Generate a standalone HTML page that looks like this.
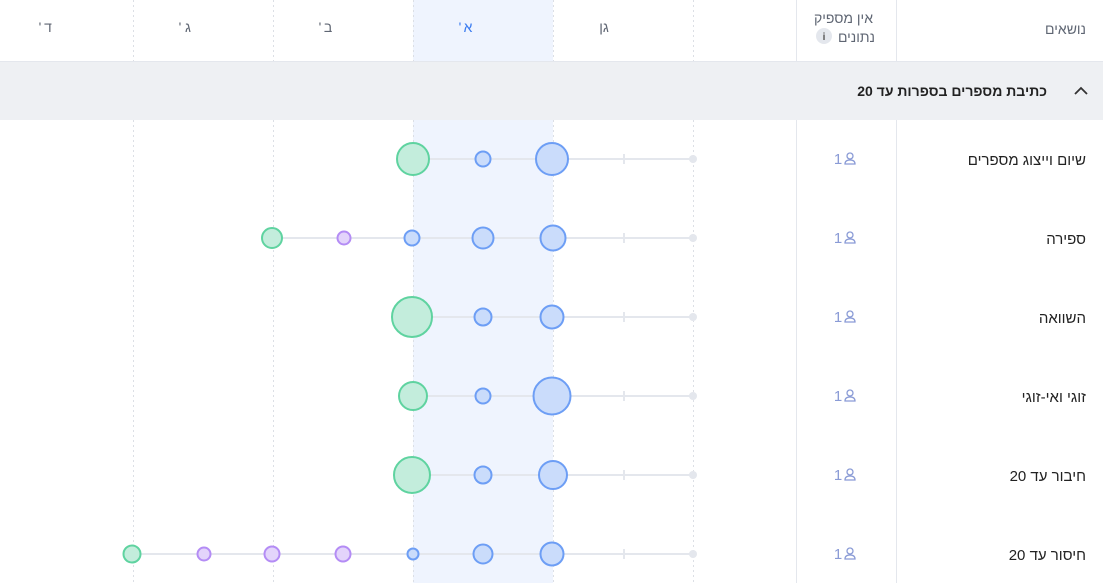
<!DOCTYPE html>
<html><head><meta charset="utf-8"><style>
html,body{margin:0;padding:0;background:#fff;width:1103px;height:583px;overflow:hidden}
svg text{font-family:"Liberation Sans","Noto Sans CJK JP",sans-serif}
</style></head><body>
<svg width="1103" height="583" xmlns="http://www.w3.org/2000/svg">
<defs>
<g id="u"><text x="838" y="5" font-size="15" fill="#8a9bd6" text-anchor="middle">1</text>
<circle cx="850" cy="-3" r="3" fill="none" stroke="#8a9bd6" stroke-width="1.3"/>
<path d="M845 5 Q845 1 850 1 Q855 1 855 5 Z" fill="none" stroke="#8a9bd6" stroke-width="1.3"/>
<line x1="624" y1="-5" x2="624" y2="5" stroke="#e4e7ed" stroke-width="2"/>
<circle cx="693" cy="0" r="4" fill="#e4e7ed"/></g>
</defs>
<rect x="413" y="0" width="140" height="583" fill="#eff4fe"/>
<g stroke="#dcdfe5" stroke-dasharray="2,3" stroke-width="1">
<line x1="133.5" y1="0" x2="133.5" y2="583"/><line x1="273.5" y1="0" x2="273.5" y2="583"/>
<line x1="413.5" y1="0" x2="413.5" y2="583"/><line x1="553.5" y1="0" x2="553.5" y2="583"/>
<line x1="693.5" y1="0" x2="693.5" y2="583"/></g>
<g stroke="#e4e7ed" stroke-width="1"><line x1="796.5" y1="0" x2="796.5" y2="583"/><line x1="896.5" y1="0" x2="896.5" y2="583"/>
<line x1="0" y1="61.5" x2="1103" y2="61.5"/></g>
<rect x="0" y="62" width="1103" height="58" fill="#eef0f3"/>
<g font-size="14" fill="#5f6673" text-anchor="middle">
<text x="40" y="32">'</text><text x="48" y="32">ד</text>
<text x="180" y="32">'</text><text x="188" y="32">ג</text>
<text x="320" y="32">'</text><text x="328" y="32">ב</text>
<text x="460" y="32" fill="#3b7cf0">'</text><text x="468" y="32" fill="#3b7cf0">א</text>
<text x="604" y="32">גן</text></g>
<text x="1086" y="34" font-size="14" fill="#5f6673" text-anchor="end">נושאים</text>
<text x="873" y="23" font-size="14" fill="#5f6673" text-anchor="end">אין מספיק</text>
<text x="875" y="42" font-size="14" fill="#5f6673" text-anchor="end">נתונים</text>
<circle cx="824" cy="36" r="8" fill="#e4e7ed"/><text x="824" y="40" font-size="10" fill="#555" text-anchor="middle" font-weight="bold">i</text>
<text x="1047" y="96" font-size="14" font-weight="bold" fill="#222" text-anchor="end">כתיבת מספרים בספרות עד 20</text>
<path d="M1075 94 L1081 88 L1087 94" stroke="#333" stroke-width="1.8" fill="none"/>
<g font-size="15" fill="#222" text-anchor="end">
<text x="1086" y="165">שיום וייצוג מספרים</text><text x="1086" y="244">ספירה</text>
<text x="1086" y="323">השוואה</text><text x="1086" y="402">זוגי ואי-זוגי</text>
<text x="1086" y="481">חיבור עד 20</text><text x="1086" y="560">חיסור עד 20</text></g>
<g stroke="#e4e7ed" stroke-width="2">
<line x1="413" y1="159" x2="693" y2="159"/><line x1="272" y1="238" x2="693" y2="238"/>
<line x1="412" y1="317" x2="693" y2="317"/><line x1="413" y1="396" x2="693" y2="396"/>
<line x1="412" y1="475" x2="693" y2="475"/><line x1="132" y1="554" x2="693" y2="554"/></g>
<use href="#u" y="159"/><use href="#u" y="238"/><use href="#u" y="317"/>
<use href="#u" y="396"/><use href="#u" y="475"/><use href="#u" y="554"/>
<g stroke-width="2">
<g fill="#c3eddc" stroke="#5fd3a0">
<circle cx="413" cy="159" r="16"/><circle cx="272" cy="238" r="10"/><circle cx="412" cy="317" r="20"/>
<circle cx="413" cy="396" r="14"/><circle cx="412" cy="475" r="18"/><circle cx="132" cy="554" r="8.5"/></g>
<g fill="#e3d4fb" stroke="#b48cf5">
<circle cx="344" cy="238" r="6.5"/><circle cx="204" cy="554" r="6.5"/><circle cx="272" cy="554" r="7.5"/><circle cx="343" cy="554" r="7.5"/></g>
<g fill="#cadcfb" stroke="#6d9ef5">
<circle cx="483" cy="159" r="7.5"/><circle cx="552" cy="159" r="16"/>
<circle cx="412" cy="238" r="7.5"/><circle cx="483" cy="238" r="10.5"/><circle cx="553" cy="238" r="12.5"/>
<circle cx="483" cy="317" r="8.5"/><circle cx="552" cy="317" r="11.5"/>
<circle cx="483" cy="396" r="7.5"/><circle cx="552" cy="396" r="18.5"/>
<circle cx="483" cy="475" r="8.5"/><circle cx="553" cy="475" r="14"/>
<circle cx="413" cy="554" r="5.5"/><circle cx="483" cy="554" r="9.5"/><circle cx="552" cy="554" r="11.5"/></g>
</g>
</svg>
</body></html>
